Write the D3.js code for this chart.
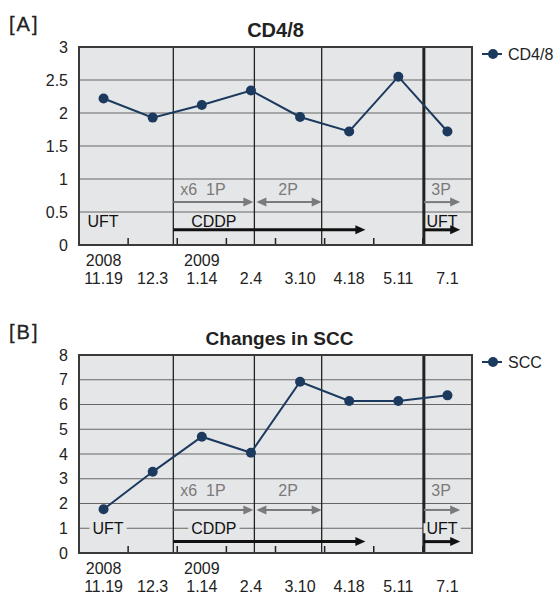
<!DOCTYPE html>
<html>
<head>
<meta charset="utf-8">
<script src="https://cdn.jsdelivr.net/npm/d3@7"></script>
<style>
  body { margin: 0; background: #fff; }
  svg { display: block; font-family: "Liberation Sans", Arial, sans-serif; }
</style>
</head>
<body>
<div id="chart"></div>
<script>
// datos
const dates = ["11.19", "12.3", "1.14", "2.4", "3.10", "4.18", "5.11", "7.1"];
const years = ["2008", "", "2009", "", "", "", "", ""];
const cd48 = [2.22, 1.93, 2.12, 2.34, 1.94, 1.72, 2.55, 1.72];
const scc = [1.77, 3.28, 4.70, 4.05, 6.92, 6.14, 6.14, 6.37];
const cdTicks = [0, 0.5, 1, 1.5, 2, 2.5, 3];
const sccTicks = [0, 1, 2, 3, 4, 5, 6, 7, 8];

const WIDTH = 556;
const HEIGHT = 595;
const PLOT_BG = "#e5e6e8";
const NAVY = "#1c3a5e";
const GRAY = "#7a7a7a";

// posiciones de los tratamientos (en unidades de indice de fecha)
const MARKS = { cddpStart: 1.42, p1End: 3.07, p2End: 4.44, cddpEnd: 5.33, stop: 6.52, uftEnd: 7.26 };

const SVG = d3.select("#chart").append("svg").attr("width", WIDTH).attr("height", HEIGHT);

const x = d3.scaleLinear().domain([-0.5, dates.length - 0.5]).range([79, 472]);

function arrow(g, x1, x2, y, color, w, both) {
    const hl = 10, hw = 4.5;
    g.append("line")
        .attr("x1", both ? x1 + hl - 1 : x1).attr("x2", x2 - hl + 1)
        .attr("y1", y).attr("y2", y)
        .attr("stroke", color).attr("stroke-width", w);
    g.append("path")
        .attr("d", `M${x2},${y} L${x2 - hl},${y - hw} L${x2 - hl},${y + hw} Z`)
        .attr("fill", color);
    if (both) {
        g.append("path")
            .attr("d", `M${x1},${y} L${x1 + hl},${y - hw} L${x1 + hl},${y + hw} Z`)
            .attr("fill", color);
    }
}

function drawPanel(cfg) {
    const y = d3.scaleLinear().domain([0, cfg.max]).range([cfg.bottom, cfg.top]);
    const g = SVG.append("g");
    const [x0, x1] = x.range();

    // fondo
    g.append("rect").attr("x", x0).attr("y", cfg.top)
        .attr("width", x1 - x0).attr("height", cfg.bottom - cfg.top)
        .attr("fill", PLOT_BG);

    // grilla horizontal
    g.selectAll(".hgrid").data(cfg.ticks.filter(t => t > 0 && t < cfg.max)).join("line")
        .attr("x1", x0).attr("x2", x1)
        .attr("y1", d => y(d)).attr("y2", d => y(d))
        .attr("stroke", "#666").attr("stroke-width", 1);

    // lineas verticales de tratamiento
    g.selectAll(".vgrid").data([MARKS.cddpStart, MARKS.p1End, MARKS.p2End]).join("line")
        .attr("x1", d => x(d)).attr("x2", d => x(d))
        .attr("y1", cfg.top).attr("y2", cfg.bottom)
        .attr("stroke", "#222").attr("stroke-width", 1.3);
    g.append("line")
        .attr("x1", x(MARKS.stop)).attr("x2", x(MARKS.stop))
        .attr("y1", cfg.top).attr("y2", cfg.bottom)
        .attr("stroke", "#222").attr("stroke-width", 3);

    // ticks abajo
    g.selectAll(".tick").data(d3.range(dates.length - 1)).join("line")
        .attr("x1", d => x(d + 0.5)).attr("x2", d => x(d + 0.5))
        .attr("y1", cfg.bottom).attr("y2", cfg.bottom - 7)
        .attr("stroke", "#222").attr("stroke-width", 1.5);

    // flechas grises (ciclos)
    const ga = y(cfg.grayY);
    arrow(g, x(MARKS.cddpStart), x(MARKS.p1End) - 1, ga, GRAY, 2, false);
    arrow(g, x(MARKS.p1End) + 2, x(MARKS.p2End), ga, GRAY, 2, true);
    arrow(g, x(MARKS.stop), x(MARKS.uftEnd), ga, GRAY, 2, false);
    const gt = y(cfg.grayTextY);
    g.append("text").attr("x", x(MARKS.cddpStart) + 7).attr("y", gt)
        .attr("font-size", 16).attr("fill", GRAY).attr("xml:space", "preserve").text("x6  1P");
    g.append("text").attr("x", (x(MARKS.p1End) + x(MARKS.p2End)) / 2).attr("y", gt)
        .attr("text-anchor", "middle").attr("font-size", 16).attr("fill", GRAY).text("2P");
    g.append("text").attr("x", (x(MARKS.stop) + x(MARKS.uftEnd)) / 2 - 1).attr("y", gt)
        .attr("text-anchor", "middle").attr("font-size", 16).attr("fill", GRAY).text("3P");

    // flechas negras (UFT / CDDP)
    const ba = y(cfg.blackY);
    arrow(g, x(MARKS.cddpStart), x(MARKS.cddpEnd), ba, "#111", 3, false);
    arrow(g, x(MARKS.stop), x(MARKS.uftEnd), ba, "#111", 3, false);

    const drugs = [
        { label: "UFT", cx: cfg.uftX },
        { label: "CDDP", cx: (x(MARKS.cddpStart) + x(MARKS.p1End)) / 2 },
        { label: "UFT", cx: (x(MARKS.stop) + x(MARKS.uftEnd)) / 2 }
    ];
    const ty = y(cfg.drugY);
    drugs.forEach(d => {
        const t = g.append("text").attr("x", d.cx).attr("y", ty + 5.5)
            .attr("text-anchor", "middle").attr("font-size", 16).attr("fill", "#111").text(d.label);
        if (cfg.drugBg) {
            const b = t.node().getBBox();
            g.insert("rect", () => t.node())
                .attr("x", b.x - 3).attr("y", ty - 5).attr("width", b.width + 6).attr("height", 10)
                .attr("fill", PLOT_BG);
        }
    });

    // serie
    const line = d3.line().x((d, i) => x(i)).y(d => y(d));
    g.append("path").datum(cfg.values).attr("d", line)
        .attr("fill", "none").attr("stroke", NAVY).attr("stroke-width", 2);
    g.selectAll(".dot").data(cfg.values).join("circle")
        .attr("cx", (d, i) => x(i)).attr("cy", d => y(d)).attr("r", 5)
        .attr("fill", NAVY);

    // borde
    g.append("rect").attr("x", x0).attr("y", cfg.top)
        .attr("width", x1 - x0).attr("height", cfg.bottom - cfg.top)
        .attr("fill", "none").attr("stroke", "#3a3a3a").attr("stroke-width", 2);

    // eje y
    g.selectAll(".ylab").data(cfg.ticks).join("text")
        .attr("x", 68).attr("y", d => y(d) + 5.5)
        .attr("text-anchor", "end").attr("font-size", 16).attr("fill", "#222")
        .text(d => d);

    // eje x (dos filas)
    g.selectAll(".yr").data(years).join("text")
        .attr("x", (d, i) => x(i)).attr("y", cfg.bottom + 21)
        .attr("text-anchor", "middle").attr("font-size", 16).attr("fill", "#222")
        .text(d => d);
    g.selectAll(".dt").data(dates).join("text")
        .attr("x", (d, i) => x(i)).attr("y", cfg.bottom + 39)
        .attr("text-anchor", "middle").attr("font-size", 16).attr("fill", "#222")
        .text(d => d);

    // titulos
    g.append("text").attr("x", 9).attr("y", cfg.top - 16)
        .attr("font-size", 20).attr("letter-spacing", 2).attr("fill", "#222")
        .attr("stroke", "#222").attr("stroke-width", 0.3).text(cfg.tag);
    g.append("text").attr("x", (x0 + x1) / 2 + cfg.titleDx).attr("y", cfg.top - 10)
        .attr("text-anchor", "middle").attr("font-size", cfg.titleSize).attr("font-weight", "bold")
        .attr("fill", "#222").text(cfg.title);

    // leyenda
    const ly = cfg.top + 7;
    g.append("line").attr("x1", 482).attr("x2", 502).attr("y1", ly).attr("y2", ly)
        .attr("stroke", NAVY).attr("stroke-width", 2);
    g.append("circle").attr("cx", 493).attr("cy", ly).attr("r", 5).attr("fill", NAVY);
    g.append("text").attr("x", 508).attr("y", ly + 5.5)
        .attr("font-size", 16).attr("fill", "#222").text(cfg.legend);
}

drawPanel({
    tag: "[A]", title: "CD4/8", legend: "CD4/8", titleDx: 0, titleSize: 20,
    values: cd48, ticks: cdTicks, max: 3, top: 47, bottom: 245,
    grayY: 0.65, grayTextY: 0.76, blackY: 0.23, drugY: 0.35, drugBg: false, uftX: 103
});

drawPanel({
    tag: "[B]", title: "Changes in SCC", legend: "SCC", titleDx: 4, titleSize: 19,
    values: scc, ticks: sccTicks, max: 8, top: 355, bottom: 553,
    grayY: 1.74, grayTextY: 2.3, blackY: 0.46, drugY: 1, drugBg: true, uftX: 108
});
</script>
</body>
</html>
